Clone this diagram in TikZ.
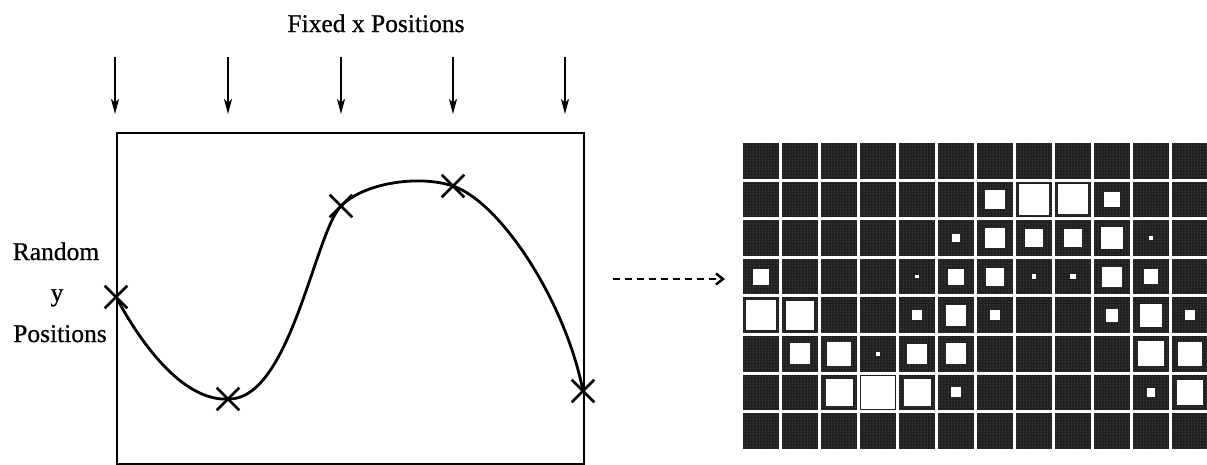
\documentclass[tikz,border=0pt]{standalone}
\usepackage{fontspec}
\setmainfont{Liberation Serif}
\newfontfamily\scanfont[FakeBold=0.7]{Liberation Serif}
\usetikzlibrary{arrows.meta,shapes.misc,patterns}

\begin{document}
\begin{tikzpicture}[x=1pt,y=-1pt,
        lbl/.style={font=\scanfont\fontsize{25.5}{30}\selectfont, inner sep=0pt, anchor=base},
        xmark/.style={cross out, draw, line width=2.6pt, minimum size=20pt, inner sep=0pt},
        down/.style={line width=1.8pt, -{Stealth[length=15pt,width=8pt,inset=4pt]}},
        cell/.style={fill=black!88, postaction={pattern=dots, pattern color=black!50}},
        blob/.style={fill=white}]
        \useasboundingbox (0,0) rectangle (1207,464);
        % Title
        \node[lbl] (title) at (376,32) {Fixed x Positions};
        \foreach \x [count=\i] in {115,228,341,453,565} {
            \coordinate (top\i) at (\x,57);
            \coordinate (tip\i) at (\x,114);
            \draw[down] (top\i) -- (tip\i);
        }
        % Frame
        \node[draw, line width=1.8pt, inner sep=0pt, minimum width=467pt, minimum height=331pt, anchor=north west] (frame) at (116,132) {};
        \node[lbl] (rnd) at (56,260) {Random};
        \node[lbl] (yy) at (57,301) {y};
        \node[lbl] (pos) at (60,342) {Positions};
        % Points and curve
        \foreach \x/\y [count=\i] in {116/297,228/399,341/206,453/186,583/391}
            \node[xmark] (p\i) at (\x,\y) {};
        \draw[line width=2.8pt] (p1.center) .. controls (150,360) and (190,401) .. (p2.center)
            .. controls (290,401) and (315,232) .. (p3.center)
            .. controls (365,182) and (420,175) .. (p4.center)
            .. controls (500,202) and (565,300) .. (p5.center);
        % Dashed arrow
        \coordinate (dfrom) at (613,279);
        \coordinate (dto) at (725,279);
        \draw[line width=2.5pt, dash pattern=on 7pt off 5pt, -{Straight Barb[length=7pt,width=11pt]}] (dfrom) -- (dto);
        % Grid
        \foreach \r in {0,...,7}
            \foreach \c in {0,...,11}
                \fill[cell] ({743+39*\c},{143+38.6*\r}) rectangle +(36,35.6);
        \foreach \r/\c/\s in {1/6/0.55, 1/7/0.86, 1/8/0.83, 1/9/0.42,
                2/5/0.2, 2/6/0.58, 2/7/0.48, 2/8/0.5, 2/9/0.6, 2/10/0.12,
                3/0/0.45, 3/4/0.1, 3/5/0.45, 3/6/0.5, 3/7/0.13, 3/8/0.15, 3/9/0.55, 3/10/0.4,
                4/0/0.83, 4/1/0.8, 4/4/0.28, 4/5/0.58, 4/6/0.27, 4/9/0.36, 4/10/0.63, 4/11/0.28,
                5/1/0.58, 5/2/0.65, 5/3/0.1, 5/4/0.55, 5/5/0.58, 5/10/0.7, 5/11/0.65,
                6/2/0.75, 6/3/0.92, 6/4/0.75, 6/5/0.28, 6/10/0.23, 6/11/0.7}
            \fill[blob] ({743+39*\c+18-18*\s},{143+38.6*\r+17.8-18*\s}) rectangle +({36*\s},{36*\s});
\end{tikzpicture}
\end{document}
